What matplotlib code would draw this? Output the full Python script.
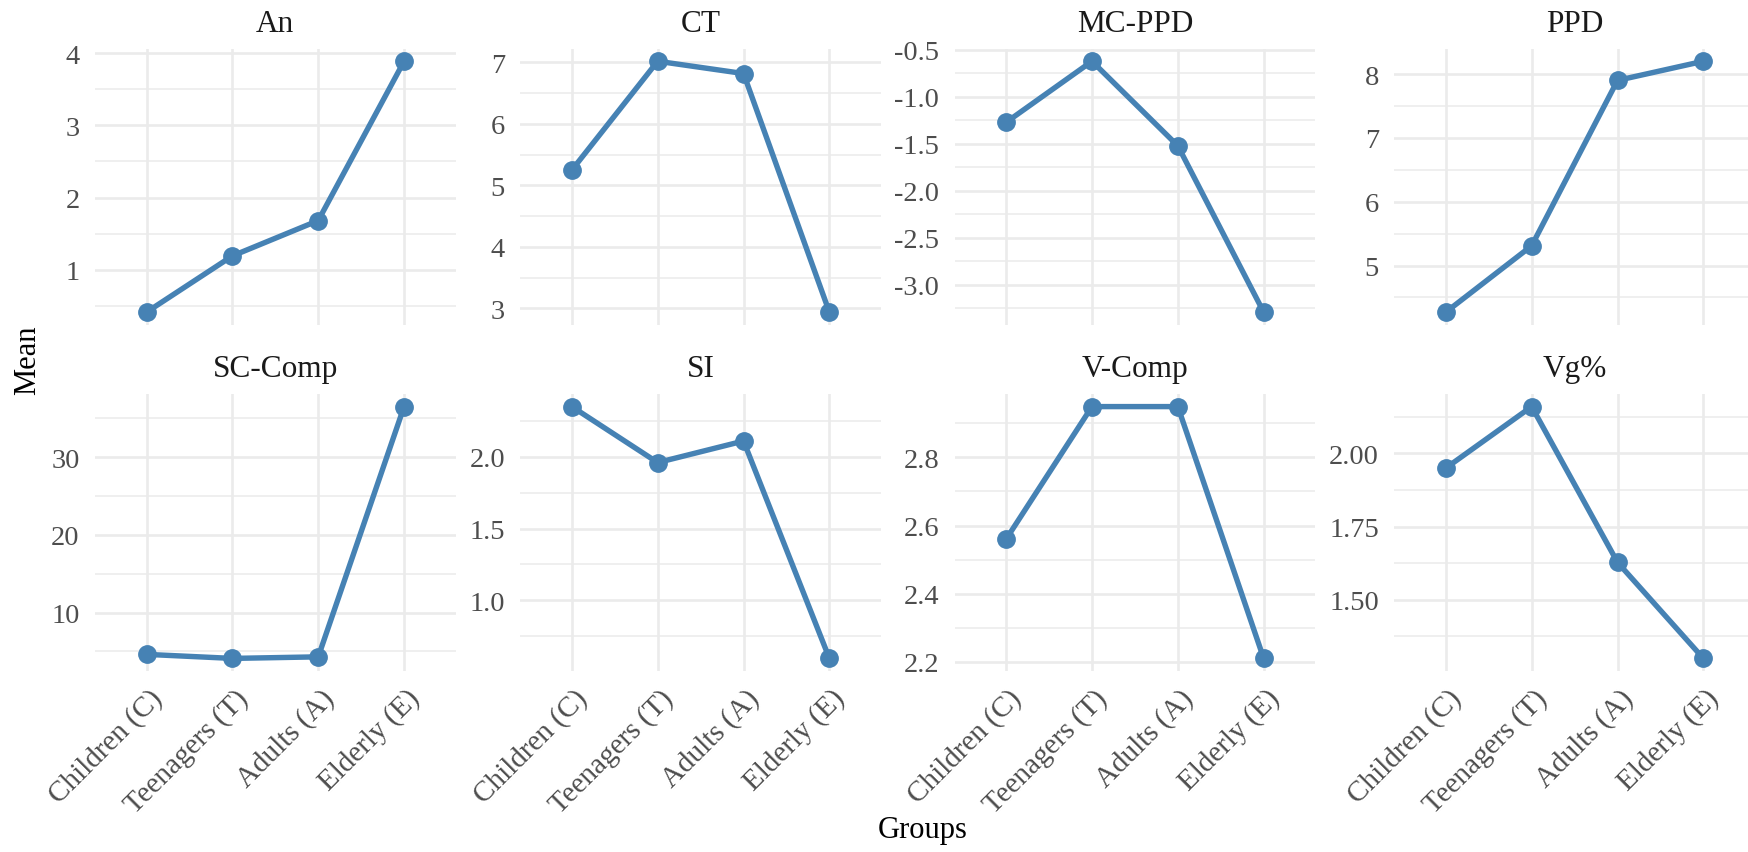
import matplotlib
matplotlib.use("Agg")
import matplotlib.pyplot as plt
from matplotlib.ticker import MultipleLocator, FormatStrFormatter
import matplotlib.transforms as mtransforms

plt.rcParams['font.family'] = ['Liberation Serif', 'DejaVu Serif']
plt.rcParams['axes.unicode_minus'] = False

# ---- data ----
groups = ["Children (C)", "Teenagers (T)", "Adults (A)", "Elderly (E)"]
panels = ["An", "CT", "MC-PPD", "PPD", "SC-Comp", "SI", "V-Comp", "Vg%"]
an = [0.41, 1.19, 1.68, 3.89]
ct = [5.25, 7.02, 6.82, 2.94]
mc_ppd = [-1.27, -0.62, -1.52, -3.29]
ppd = [4.27, 5.31, 7.90, 8.20]
sc_comp = [4.62, 4.10, 4.30, 36.5]
si = [2.35, 1.96, 2.11, 0.595]
v_comp = [2.56, 2.949, 2.949, 2.21]
vg_pct = [1.95, 2.16, 1.628, 1.30]
series = [an, ct, mc_ppd, ppd, sc_comp, si, v_comp, vg_pct]
# y tick steps and label formats per panel
tick_steps = [1, 1, 0.5, 1, 10, 0.5, 0.2, 0.25]
tick_formats = ["%d", "%d", "%.1f", "%d", "%d", "%.1f", "%.1f", "%.2f"]

W, H = 1749, 853
fig = plt.figure(figsize=(W / 100, H / 100), dpi=100)
fig.patch.set_facecolor("white")

col_left = [95, 520.3, 954.6, 1394.3]
panel_w = 360.6
row_top = [49.7, 395]
panel_h = [276, 277]

line_color = "#4682B4"
grid_color = "#EBEBEB"
x = list(range(len(groups)))

for i, (name, vals) in enumerate(zip(panels, series)):
    r, c = divmod(i, 4)
    left = col_left[c] / W
    bottom = 1 - (row_top[r] + panel_h[r]) / H
    ax = fig.add_axes([left, bottom, panel_w / W, panel_h[r] / H])
    ax.set_facecolor("white")
    ax.plot(x, vals, color=line_color, lw=3.9, zorder=3, solid_capstyle="butt")
    ax.plot(x, vals, "o", color=line_color, ms=12.5, zorder=4)
    ax.set_xlim(-0.6, 3.6)
    ax.margins(y=0.05)
    ax.set_xticks(x)
    step = tick_steps[i]
    ax.yaxis.set_major_locator(MultipleLocator(step))
    ax.yaxis.set_minor_locator(MultipleLocator(step / 2))
    ax.yaxis.set_major_formatter(FormatStrFormatter(tick_formats[i]))
    ax.grid(True, which="major", axis="both", color=grid_color, lw=1.9, zorder=0)
    ax.grid(True, which="minor", axis="y", color=grid_color, lw=1.1, zorder=0)
    ax.set_axisbelow(True)
    for s in ax.spines.values():
        s.set_visible(False)
    ax.tick_params(axis="both", which="both", length=0)
    ax.tick_params(axis="y", labelsize=20.5, labelcolor="#4D4D4D", pad=11)
    if r == 1:
        ax.set_xticklabels(groups)
        ax.tick_params(axis="x", labelsize=21, labelcolor="#4D4D4D", pad=9.5)
        offset = mtransforms.ScaledTranslation(2 / 100, 0, fig.dpi_scale_trans)
        for lab in ax.get_xticklabels():
            lab.set_rotation(45)
            lab.set_ha("right")
            lab.set_va("top")
            lab.set_rotation_mode("anchor")
            lab.set_transform(lab.get_transform() + offset)
    else:
        ax.set_xticklabels([])
    ax.annotate(name, xy=(0.5, 1), xycoords="axes fraction",
                xytext=(0, 25 * 0.72), textcoords="offset points",
                ha="center", va="center", fontsize=22.5, color="#1A1A1A")

fig.text(28 / W, 1 - 360 / H, "Mean", rotation=90, ha="center", va="center",
         fontsize=22, color="black")
fig.text(923 / W, 1 - 831 / H, "Groups", ha="center", va="center",
         fontsize=22, color="black")

fig.savefig("out.png", dpi=100, facecolor="white")
